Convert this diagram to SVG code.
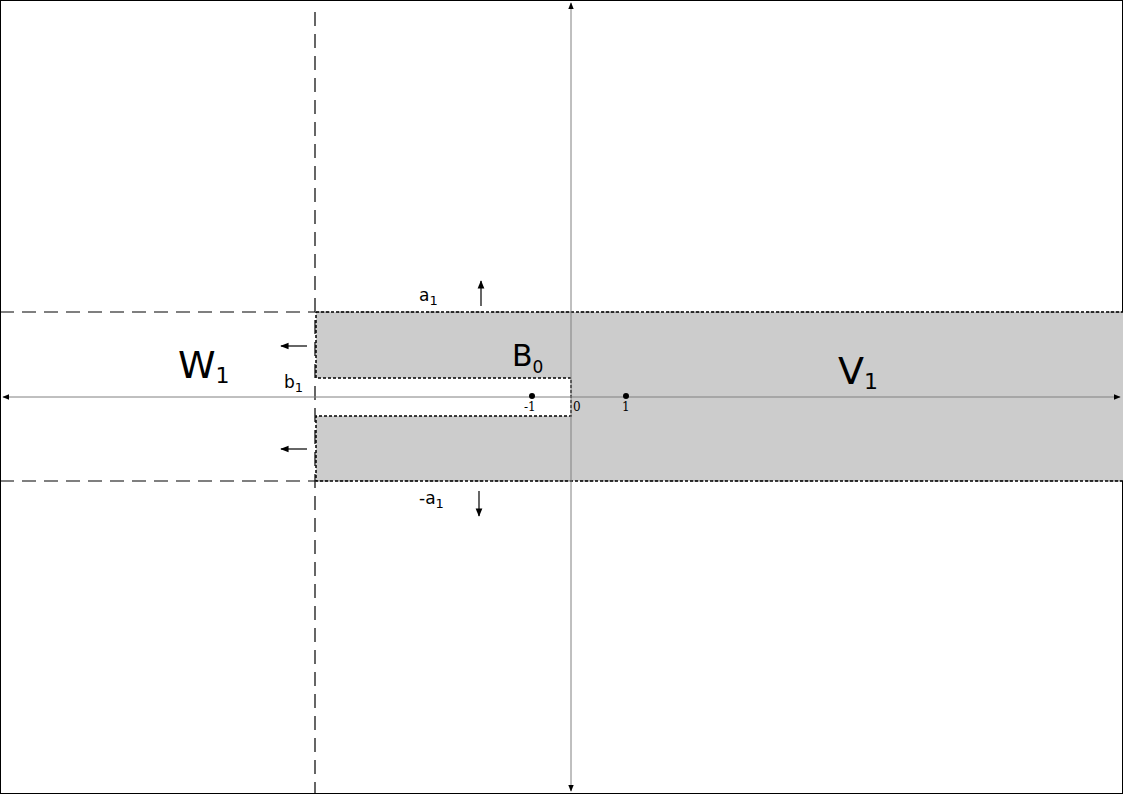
<svg xmlns="http://www.w3.org/2000/svg" width="1123" height="794" viewBox="0 0 1123 794">
<style>
.ax{stroke:#808080;stroke-width:1;fill:none}
.dash{stroke:#000;stroke-width:1.2;stroke-dasharray:14,8;fill:none}
.lbl{font-family:"DejaVu Sans",sans-serif;fill:#000}
.srf{font-family:"DejaVu Serif",serif;fill:#000}
.arr{stroke:#000;stroke-width:1.2;fill:none}
</style>
<defs>
<marker id="ah" viewBox="0 0 10 10" refX="9" refY="5" markerWidth="7" markerHeight="7" orient="auto-start-reverse"><path d="M0,1 L10,5 L0,9 z" fill="#000"/></marker>
<marker id="ag" viewBox="0 0 10 10" refX="9" refY="5" markerWidth="7" markerHeight="7" orient="auto-start-reverse"><path d="M0,1 L10,5 L0,9 z" fill="#000"/></marker>
</defs>
<rect x="0.5" y="0.5" width="1122" height="793" fill="#fff" stroke="#000"/>
<g id="region">
<path d="M316,312 H1123 V481 H316 V416 H571 V378 H316 Z" fill="#cccccc"/>
<path d="M316,312 H1123 M316,481 H1123" class="dash" stroke-opacity="0.5"/>
<path d="M316,312 H1123 M1123,481 H316 V416 H571 V378 H316 V312" fill="none" stroke="#000" stroke-width="1.5" stroke-dasharray="3,2"/>
</g>
<g id="connectors">
<line x1="315" y1="12" x2="315" y2="794" class="dash"/>
<line x1="0" y1="312" x2="315" y2="312" class="dash"/>
<line x1="0" y1="481" x2="315" y2="481" class="dash"/>
<line x1="3" y1="397" x2="1120" y2="397" class="ax" marker-start="url(#ag)" marker-end="url(#ag)"/>
<line x1="571" y1="3" x2="571" y2="791" class="ax" marker-start="url(#ag)" marker-end="url(#ag)"/>
<line x1="481" y1="306" x2="481" y2="281" class="arr" marker-end="url(#ah)"/>
<line x1="479" y1="491" x2="479" y2="516" class="arr" marker-end="url(#ah)"/>
<line x1="307" y1="346" x2="281" y2="346" class="arr" marker-end="url(#ah)"/>
<line x1="307" y1="449" x2="281" y2="449" class="arr" marker-end="url(#ah)"/>
</g>
<g id="points">
<circle cx="532" cy="396" r="3" fill="#000"/>
<circle cx="626" cy="396" r="3" fill="#000"/>
</g>
<g id="labels">
<text class="srf" x="524" y="411" font-size="12">-1</text>
<text class="srf" x="573" y="411" font-size="12">0</text>
<text class="srf" x="622" y="411" font-size="12">1</text>
<text class="lbl" x="419" y="301" font-size="17">a<tspan font-size="13" dy="4">1</tspan></text>
<text class="lbl" x="419" y="504" font-size="17">-a<tspan font-size="13" dy="4">1</tspan></text>
<text class="lbl" x="284" y="388" font-size="17">b<tspan font-size="13" dy="4">1</tspan></text>
<text class="lbl" x="512" y="366" font-size="30">B<tspan font-size="17" dy="7">0</tspan></text>
<text class="lbl" x="178" y="378" font-size="38">W<tspan font-size="22" dy="5">1</tspan></text>
<text class="lbl" x="838" y="384" font-size="38">V<tspan font-size="22" dy="5">1</tspan></text>
</g>
</svg>
